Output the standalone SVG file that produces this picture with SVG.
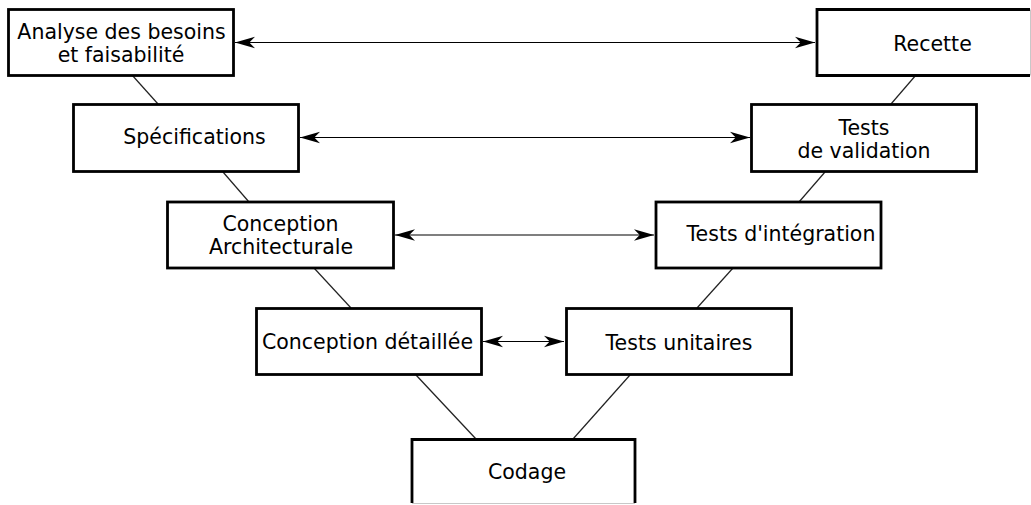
<svg xmlns="http://www.w3.org/2000/svg" width="1031" height="505" viewBox="0 0 1031 505">
<style>
  .box { fill: #ffffff; stroke: #000000; stroke-width: 2.8; }
  .edge { fill: none; stroke: #c8c8c8; stroke-width: 1; }
  .lbl { font-family: "DejaVu Sans", sans-serif; font-size: 20.5px; fill: #000000; text-anchor: middle; }
  .link { fill: none; stroke: #222222; stroke-width: 1.2; }
  .arr { fill: none; stroke: #000000; stroke-width: 1.2; marker-start: url(#ah); marker-end: url(#ah); }
</style>
<defs>
  <marker id="ah" markerUnits="userSpaceOnUse" viewBox="-21 -7 22 14" refX="0" refY="0" markerWidth="22" markerHeight="14" orient="auto-start-reverse">
    <path d="M 0,0 L -20,-5.8 L -14.3,0 L -20,5.8 Z" fill="#000000"/>
  </marker>
</defs>

<g id="connectors">
  <line class="link" x1="132" y1="75" x2="158" y2="104"/>
  <line class="link" x1="223" y1="172" x2="249" y2="202"/>
  <line class="link" x1="314" y1="268" x2="351" y2="308"/>
  <line class="link" x1="416" y1="375" x2="476" y2="439"/>
  <line class="link" x1="630" y1="375" x2="573" y2="439"/>
  <line class="link" x1="733" y1="268" x2="697" y2="308"/>
  <line class="link" x1="825" y1="172" x2="799" y2="202"/>
  <line class="link" x1="916" y1="75" x2="891" y2="104"/>
  <line class="arr" x1="235" y1="42.5" x2="815" y2="42.5"/>
  <line class="arr" x1="300" y1="137.5" x2="750" y2="137.5"/>
  <line class="arr" x1="395" y1="235" x2="654" y2="235"/>
  <line class="arr" x1="483" y1="341.5" x2="564" y2="341.5"/>
</g>

<g id="analyse">
  <rect class="box" x="8.5" y="9.5" width="225" height="66"/>
  <text class="lbl" x="121.5" y="39">Analyse des besoins</text>
  <text class="lbl" x="121" y="61.5">et faisabilité</text>
</g>
<g id="specifications">
  <rect class="box" x="73.5" y="104.5" width="225" height="67"/>
  <text class="lbl" x="194.5" y="144">Spécifications</text>
</g>
<g id="conception-architecturale">
  <rect class="box" x="167.5" y="202" width="226" height="66"/>
  <text class="lbl" x="280.5" y="231">Conception</text>
  <text class="lbl" x="281" y="254">Architecturale</text>
</g>
<g id="conception-detaillee">
  <rect class="box" x="256.5" y="308.5" width="225" height="66"/>
  <text class="lbl" x="367.5" y="348.5">Conception détaillée</text>
</g>
<g id="codage">
  <path class="box" d="M 412,503 L 412,439.5 L 635,439.5 L 635,503"/>
  <line class="edge" x1="412" y1="503.5" x2="635" y2="503.5"/>
  <text class="lbl" x="527" y="479">Codage</text>
</g>
<g id="tests-unitaires">
  <rect class="box" x="566.5" y="308.5" width="225" height="66"/>
  <text class="lbl" x="679" y="349.5">Tests unitaires</text>
</g>
<g id="tests-integration">
  <rect class="box" x="656" y="202" width="225" height="66"/>
  <text class="lbl" x="781" y="241">Tests d'intégration</text>
</g>
<g id="tests-validation">
  <rect class="box" x="751.5" y="104.5" width="225" height="67"/>
  <text class="lbl" x="864" y="134.5">Tests</text>
  <text class="lbl" x="864" y="158">de validation</text>
</g>
<g id="recette">
  <path class="box" d="M 1030,9.5 L 817,9.5 L 817,75.5 L 1030,75.5"/>
  <line class="edge" x1="1030.5" y1="9.5" x2="1030.5" y2="75.5"/>
  <text class="lbl" x="932.5" y="50.5">Recette</text>
</g>
</svg>
